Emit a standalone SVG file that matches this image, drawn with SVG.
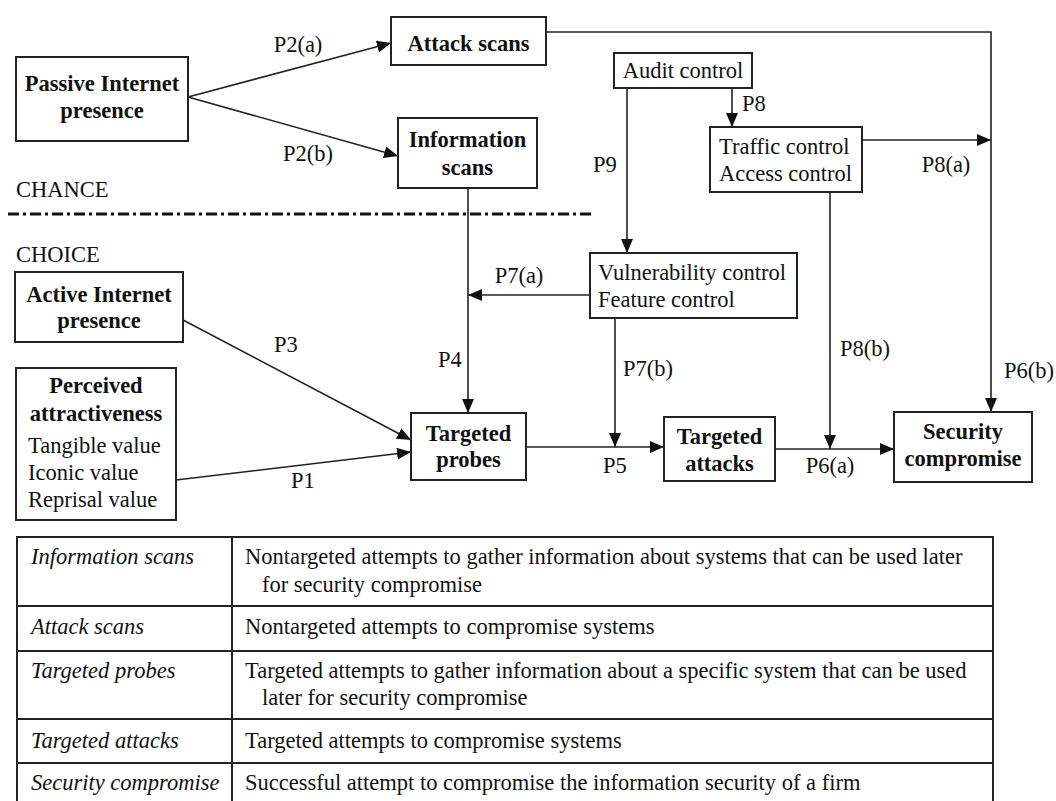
<svg xmlns="http://www.w3.org/2000/svg" width="1056" height="801" viewBox="0 0 1056 801">
<style>
text{font-family:"Liberation Serif","Times New Roman",serif;font-size:22.5px;fill:#111}
.b{font-weight:bold}
.c{text-anchor:middle}
.i{font-style:italic}
.box{fill:#fff;stroke:#222;stroke-width:2}
.ln{fill:none;stroke:#222;stroke-width:1.6}
.tb{fill:none;stroke:#222;stroke-width:2}
</style>
<defs>
<marker id="ah" markerUnits="userSpaceOnUse" markerWidth="14" markerHeight="12" refX="14" refY="6" orient="auto">
<path d="M0,0 L14,6 L0,12 z" fill="#111"/>
</marker>
</defs>
<rect width="1056" height="801" fill="#fff"/>

<g id="connectors">
<line class="ln" x1="188" y1="97" x2="391" y2="43" marker-end="url(#ah)"/>
<line class="ln" x1="188" y1="97" x2="398" y2="156" marker-end="url(#ah)"/>
<polyline class="ln" points="546,32 991,32 991,412" marker-end="url(#ah)"/>
<line class="ln" x1="627" y1="88" x2="627" y2="253" marker-end="url(#ah)"/>
<line class="ln" x1="732" y1="88" x2="732" y2="127" marker-end="url(#ah)"/>
<line class="ln" x1="862" y1="140" x2="991" y2="140" marker-end="url(#ah)"/>
<line class="ln" x1="830" y1="192" x2="830" y2="449" marker-end="url(#ah)"/>
<line class="ln" x1="468" y1="188" x2="468" y2="413" marker-end="url(#ah)"/>
<line class="ln" x1="590" y1="295" x2="468" y2="295" marker-end="url(#ah)"/>
<line class="ln" x1="615" y1="318" x2="615" y2="447" marker-end="url(#ah)"/>
<line class="ln" x1="526" y1="447" x2="664" y2="447" marker-end="url(#ah)"/>
<line class="ln" x1="775" y1="449" x2="894" y2="449" marker-end="url(#ah)"/>
<line class="ln" x1="183" y1="320" x2="411" y2="440" marker-end="url(#ah)"/>
<line class="ln" x1="176" y1="480" x2="411" y2="452" marker-end="url(#ah)"/>
</g>

<g id="labels">
<text x="298" y="52" class="c">P2(a)</text>
<text x="308" y="161" class="c">P2(b)</text>
<text x="605" y="172" class="c">P9</text>
<text x="742" y="111">P8</text>
<text x="946" y="172" class="c">P8(a)</text>
<text x="519" y="283" class="c">P7(a)</text>
<text x="450" y="367" class="c">P4</text>
<text x="648" y="376" class="c">P7(b)</text>
<text x="615" y="473" class="c">P5</text>
<text x="830" y="473" class="c">P6(a)</text>
<text x="865" y="356" class="c">P8(b)</text>
<text x="1029" y="378" class="c">P6(b)</text>
<text x="286" y="352" class="c">P3</text>
<text x="303" y="488" class="c">P1</text>
<text x="16" y="197">CHANCE</text>
<text x="16" y="262">CHOICE</text>
<line x1="8" y1="214" x2="595" y2="214" stroke="#111" stroke-width="3" stroke-dasharray="11 4 3 4"/>
</g>

<g id="passive">
<rect class="box" x="16" y="57" width="172" height="84"/>
<text x="102" y="91" class="b c">Passive Internet</text>
<text x="102" y="118" class="b c">presence</text>
</g>
<g id="attack-scans">
<rect class="box" x="391" y="17" width="155" height="48"/>
<text x="468.5" y="51" class="b c">Attack scans</text>
</g>
<g id="information-scans">
<rect class="box" x="398" y="118" width="139" height="70"/>
<text x="467.5" y="147" class="b c">Information</text>
<text x="467.5" y="175" class="b c">scans</text>
</g>
<g id="audit-control">
<rect class="box" x="614" y="53" width="138" height="35"/>
<text x="683" y="78" class="c">Audit control</text>
</g>
<g id="traffic-control">
<rect class="box" x="710" y="127" width="152" height="65"/>
<text x="719" y="154">Traffic control</text>
<text x="719" y="181">Access control</text>
</g>
<g id="vulnerability-control">
<rect class="box" x="590" y="253" width="207" height="65"/>
<text x="598" y="280">Vulnerability control</text>
<text x="598" y="307">Feature control</text>
</g>
<g id="active">
<rect class="box" x="15" y="272" width="168" height="70"/>
<text x="99" y="302" class="b c">Active Internet</text>
<text x="99" y="328" class="b c">presence</text>
</g>
<g id="perceived">
<rect class="box" x="16" y="368" width="160" height="152"/>
<text x="96" y="393" class="b c">Perceived</text>
<text x="96" y="421" class="b c">attractiveness</text>
<text x="28" y="453">Tangible value</text>
<text x="28" y="480">Iconic value</text>
<text x="28" y="507">Reprisal value</text>
</g>
<g id="targeted-probes">
<rect class="box" x="411" y="413" width="115" height="67"/>
<text x="468.5" y="441" class="b c">Targeted</text>
<text x="468.5" y="467" class="b c">probes</text>
</g>
<g id="targeted-attacks">
<rect class="box" x="664" y="417" width="111" height="64"/>
<text x="719.5" y="444" class="b c">Targeted</text>
<text x="719.5" y="471" class="b c">attacks</text>
</g>
<g id="security-compromise">
<rect class="box" x="894" y="412" width="138" height="70"/>
<text x="963" y="439" class="b c">Security</text>
<text x="963" y="466" class="b c">compromise</text>
</g>

<g id="table">
<line class="tb" x1="17" y1="537" x2="993" y2="537"/>
<line class="tb" x1="17" y1="606" x2="993" y2="606"/>
<line class="tb" x1="17" y1="651" x2="993" y2="651"/>
<line class="tb" x1="17" y1="719" x2="993" y2="719"/>
<line class="tb" x1="17" y1="763" x2="993" y2="763"/>
<line class="tb" x1="17" y1="536" x2="17" y2="801"/>
<line class="tb" x1="232" y1="536" x2="232" y2="801"/>
<line class="tb" x1="993" y1="536" x2="993" y2="801"/>
<text x="31" y="564" class="i">Information scans</text>
<text x="245" y="564">Nontargeted attempts to gather information about systems that can be used later</text>
<text x="262" y="592">for security compromise</text>
<text x="31" y="634" class="i">Attack scans</text>
<text x="245" y="634">Nontargeted attempts to compromise systems</text>
<text x="31" y="678" class="i">Targeted probes</text>
<text x="245" y="678">Targeted attempts to gather information about a specific system that can be used</text>
<text x="262" y="705">later for security compromise</text>
<text x="31" y="748" class="i">Targeted attacks</text>
<text x="245" y="748">Targeted attempts to compromise systems</text>
<text x="31" y="790" class="i">Security compromise</text>
<text x="245" y="790">Successful attempt to compromise the information security of a firm</text>
</g>
</svg>
